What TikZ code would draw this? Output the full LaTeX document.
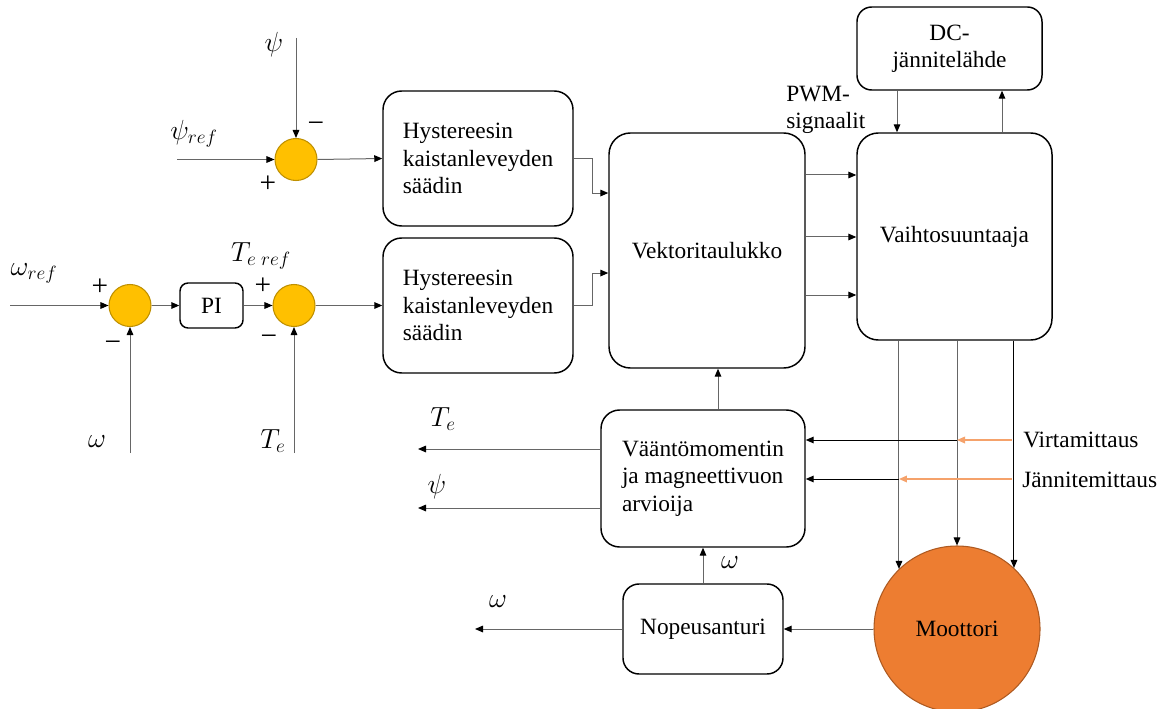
\documentclass[tikz,border=0pt]{standalone}
\usepackage{fontspec}
\setmainfont{Liberation Serif}
\newfontfamily\timesx{Liberation Serif}
\usetikzlibrary{arrows.meta}
\definecolor{sumfill}{HTML}{FFC000}
\definecolor{sumdraw}{HTML}{BF9000}
\definecolor{motfill}{HTML}{ED7D31}
\definecolor{motdraw}{HTML}{AE5A21}
\definecolor{meascol}{HTML}{F5A26B}
\begin{document}
\begin{tikzpicture}[x=0.75pt,y=-0.75pt,
  font=\timesx\fontsize{17.5}{20.5}\selectfont,
  box/.style={draw, line width=1.1pt, rounded corners=14pt, align=left, inner sep=0pt},
  sumnode/.style={circle, fill=sumfill, draw=sumdraw, line width=0.8pt, minimum size=31.5pt, inner sep=0pt},
  con/.style={draw=black!60, line width=0.75pt, -{Triangle[length=6pt,width=5pt,color=black]}},
  meas/.style={draw=meascol, line width=0.9pt, -{Triangle[length=6pt,width=5pt,color=meascol]}},
  lbl/.style={inner sep=0pt},
  mlbl/.style={inner sep=0pt, font=\fontsize{19.5}{20}\selectfont}]
\useasboundingbox (0,0) rectangle (1173,709);

% blocks
\node[box, minimum width=142.5pt, minimum height=101.25pt] (h1) at (478,158.5) {Hystereesin\\kaistanleveyden\\säädin};
\node[box, minimum width=142.5pt, minimum height=101.25pt] (h2) at (478,305.5) {Hystereesin\\kaistanleveyden\\säädin};
\node[box, minimum width=147pt, minimum height=176.25pt, rounded corners=16pt] (vk) at (707,250.5) {Vektoritaulukko};
\node[box, minimum width=146.25pt, minimum height=155.25pt, rounded corners=16pt] (vs) at (954.5,236.5) {Vaihtosuuntaaja};
\node[box, align=center, minimum width=138.75pt, minimum height=62.25pt, rounded corners=11pt] (dc) at (949.5,48.5) {DC-\\jännitelähde};
\node[box, minimum width=153pt, minimum height=102.75pt] (est) at (703,478.5) {Vääntömomentin\\ja magneettivuon\\arvioija};
\node[box, minimum width=120pt, minimum height=67.5pt, rounded corners=12pt] (no) at (703,629) {Nopeusanturi};
\node[box, minimum width=47.25pt, minimum height=33.75pt, rounded corners=6pt] (pi) at (211.5,305.5) {PI};
\node[circle, fill=motfill, draw=motdraw, line width=0.8pt, minimum size=124.5pt, inner sep=0pt] (mo) at (957,629) {Moottori};

% summing junctions
\node[sumnode] (s1) at (296,159.5) {};
\node[sumnode] (s2) at (130,305.5) {};
\node[sumnode] (s3) at (294,305.5) {};

% free ends
\coordinate (psiin) at (296,38);
\coordinate (psirefin) at (177,159.5);
\coordinate (wrefin) at (10,305.5);
\coordinate (win) at (130,453);
\coordinate (tein) at (294,453);
\coordinate (teout) at (418,449);
\coordinate (psiout) at (418,508);
\coordinate (wout) at (475,629);
\coordinate (y1) at (0,175);
\coordinate (y2) at (0,237);
\coordinate (y3) at (0,295);
\coordinate (xa) at (897,0);
\coordinate (xb) at (1002,0);
\coordinate (xe) at (718,0);
\coordinate (yv) at (0,440);
\coordinate (yj) at (0,479);
\coordinate (vstart) at (1012,440);
\coordinate (jstart) at (1012,479);

% input section
\draw[con] (psiin) -- (s1.north);
\draw[con] (psirefin) -- (s1.west);
\draw[con] (s1.east) -- (h1.west);
\draw[con] (wrefin) -- (s2.west);
\draw[con] (win) -- (s2.south);
\draw[con] (s2.east) -- (pi.west);
\draw[con] (pi.east) -- (s3.west);
\draw[con] (tein) -- (s3.south);
\draw[con] (s3.east) -- (h2.west);

\draw[con] (h1.east) -- ++(19,0) |- ([yshift=43.1pt]vk.west);
\draw[con] (h2.east) -- ++(19,0) |- ([yshift=-16.9pt]vk.west);

\draw[con] (vk.east |- y1) -- (vs.west |- y1);
\draw[con] (vk.east |- y2) -- (vs.west |- y2);
\draw[con] (vk.east |- y3) -- (vs.west |- y3);

\draw[con] (dc.south -| xa) -- (vs.north -| xa);
\draw[con] (vs.north -| xb) -- (dc.south -| xb);

\draw[con] (vs.south -| mo.134) -- (mo.134);
\draw[con] (vs.south -| mo.north) -- (mo.north);
\draw[con, draw=black] (vs.south -| mo.47) -- (mo.47);

\draw[meas] (vstart) -- (mo.north |- yv);
\draw[con, draw=black] (mo.north |- yv) -- (est.east |- yv);
\draw[meas] (jstart) -- (mo.134 |- yj);
\draw[con, draw=black] (mo.134 |- yj) -- (est.east |- yj);

\draw[con] (est.north -| xe) -- (vk.south -| xe);
\draw[con] (est.west |- teout) -- (teout);
\draw[con] (est.west |- psiout) -- (psiout);
\draw[con] (no.north) -- (est.south);
\draw[con] (no.west) -- (wout);
\draw[con] (mo.west) -- (no.east);

% labels
\node[mlbl] (lpsi) at (274,45) {$\psi$};
\node[mlbl] (lpsiref) at (194,134) {$\psi_{ref}$};
\node[lbl] (m1) at (316,127) {\fontsize{22}{22}\selectfont −};
\node[lbl] (p1) at (268,184) {\fontsize{22}{22}\selectfont +};
\node[mlbl] (lwref) at (34,273) {$\omega_{ref}$};
\node[lbl] (p2) at (100,287) {\fontsize{22}{22}\selectfont +};
\node[lbl] (m2) at (113,346) {\fontsize{22}{22}\selectfont −};
\node[mlbl] (lw) at (97,442) {$\omega$};
\node[mlbl] (lteref) at (261,256) {$T_{e\;ref}$};
\node[lbl] (p3) at (263,286) {\fontsize{22}{22}\selectfont +};
\node[lbl] (m3) at (269,340) {\fontsize{22}{22}\selectfont −};
\node[mlbl] (lte) at (273,441) {$T_e$};
\node[lbl, anchor=west, align=left] (pwm) at (786,110) {PWM-\\signaalit};
\node[lbl, anchor=west] (lvirta) at (1023,440) {Virtamittaus};
\node[lbl, anchor=west] (ljanni) at (1022,480) {Jännitemittaus};
\node[mlbl] (lteo) at (443,419) {$T_e$};
\node[mlbl] (lpsio) at (437,487) {$\psi$};
\node[mlbl] (lwe) at (730,563) {$\omega$};
\node[mlbl] (lwo) at (498,602) {$\omega$};
\end{tikzpicture}
\end{document}
